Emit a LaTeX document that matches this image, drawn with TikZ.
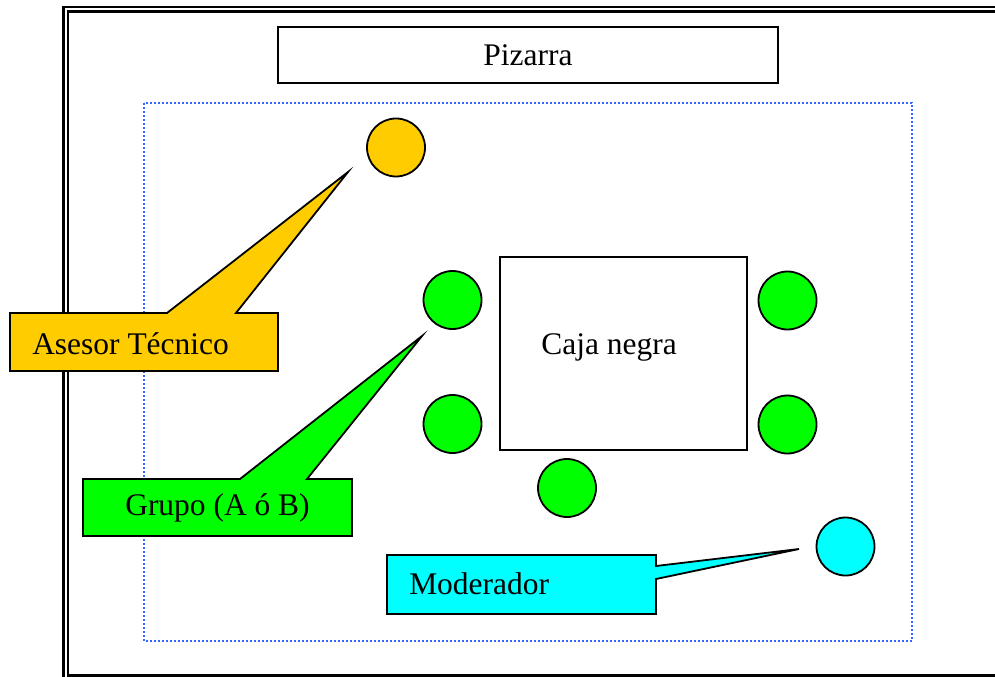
\documentclass[tikz,border=0pt]{standalone}
\usepackage{fontspec}
\setmainfont{Liberation Serif}
\definecolor{cyel}{HTML}{FFCC00}
\definecolor{cgrn}{HTML}{00FF00}
\definecolor{ccya}{HTML}{00FFFF}
\definecolor{cdot}{HTML}{3366FF}
\tikzset{
  lbl/.style={inner sep=0pt, font=\fontsize{23.6}{27}\selectfont},
  seat/.style={circle, draw=black, line width=1.35pt, minimum size=43.5pt, inner sep=0pt},
  box/.style={draw=black, line width=1.35pt},
  callout/.style={draw=black, line width=1.35pt, line join=miter},
  frameline/.style={draw=black, line width=1.7pt},
  zone/.style={draw=cdot, line width=1.4pt, dash pattern=on 1.4pt off 1.6pt}
}
\begin{document}
\begin{tikzpicture}[x=0.75pt, y=-0.75pt]
\useasboundingbox (0,0) rectangle (995,677);
\clip (0,0) rectangle (995,677);
% double frame
\draw[frameline] (63.5,7) rectangle (1010,690);
\draw[frameline] (68,11.5) rectangle (1005,675.5);
% dotted zone
\draw[zone] (144,103) rectangle (912,641);
% Pizarra
\node[box, minimum width=375pt, minimum height=42pt, inner sep=0pt] (pizarra) at (528,55) {};
\node[lbl] (pizarratxt) at (528,55) {Pizarra};
% Caja negra
\draw[box] (500,257) rectangle (747,450);
\node[lbl] (caja) at (609,347) {Caja negra};
% seats
\node[seat, fill=cyel] (asesor) at (396,147.5) {};
\node[seat, fill=cgrn] (g1) at (452.5,300) {};
\node[seat, fill=cgrn] (g2) at (452.5,424) {};
\node[seat, fill=cgrn] (g3) at (567,488) {};
\node[seat, fill=cgrn] (g4) at (787.5,300.5) {};
\node[seat, fill=cgrn] (g5) at (787.5,424.5) {};
\node[seat, fill=ccya] (moder) at (845.5,546.5) {};
% callout tips
\coordinate (tipA) at (348,172);
\coordinate (tipG) at (422,336);
\coordinate (tipM) at (799,549);
% Asesor callout
\draw[callout, fill=cyel] (10,313) -- (167,313) -- (tipA) -- (236,313) -- (278,313) -- (278,371) -- (10,371) -- cycle;
\node[lbl, anchor=west] (asesortxt) at (32,344) {Asesor Técnico};
% Grupo callout
\draw[callout, fill=cgrn] (83,479) -- (240,479) -- (tipG) -- (307,479) -- (352,479) -- (352,536) -- (83,536) -- cycle;
\node[lbl] (grupotxt) at (217.5,508) {Grupo (A ó B)};
% Moderador callout
\draw[callout, fill=ccya] (387,555) -- (656,555) -- (656,566) -- (tipM) -- (656,579) -- (656,614) -- (387,614) -- cycle;
\node[lbl, anchor=west] (modertxt) at (409,584) {Moderador};
\end{tikzpicture}
\end{document}
